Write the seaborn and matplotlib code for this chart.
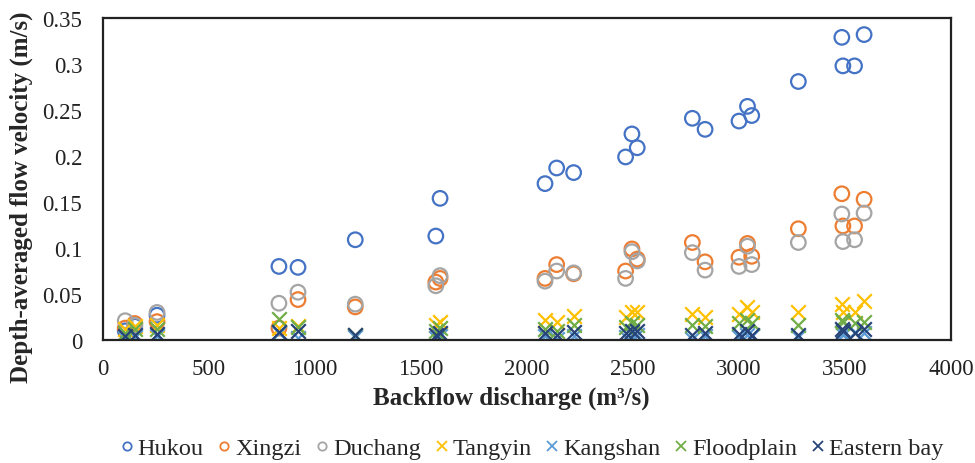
import matplotlib
matplotlib.use("Agg")
import matplotlib.pyplot as plt
import seaborn as sns
import pandas as pd
from matplotlib.lines import Line2D
from matplotlib.ticker import FuncFormatter

discharge = [105, 150, 255, 830, 920, 1190, 1570, 1590, 2085, 2140, 2220, 2465, 2495, 2520,
             2780, 2840, 3000, 3040, 3060, 3280, 3485, 3490, 3545, 3590]
hukou = [0.010, 0.015, 0.027, 0.080, 0.079, 0.109, 0.113, 0.154, 0.170, 0.187, 0.182, 0.199,
         0.224, 0.209, 0.241, 0.229, 0.238, 0.254, 0.244, 0.281, 0.329, 0.298, 0.298, 0.332]
xingzi = [0.013, 0.018, 0.020, 0.013, 0.044, 0.036, 0.063, 0.067, 0.067, 0.082, 0.072, 0.075,
          0.099, 0.088, 0.106, 0.085, 0.090, 0.105, 0.091, 0.121, 0.159, 0.124, 0.124, 0.153]
duchang = [0.021, 0.016, 0.030, 0.040, 0.052, 0.039, 0.059, 0.070, 0.064, 0.075, 0.073, 0.067,
           0.096, 0.086, 0.095, 0.076, 0.080, 0.102, 0.082, 0.106, 0.137, 0.107, 0.109, 0.138]
tangyin = [0.012, 0.015, 0.016, 0.013, 0.015, 0.004, 0.016, 0.020, 0.022, 0.020, 0.026, 0.025,
           0.031, 0.030, 0.028, 0.025, 0.028, 0.036, 0.030, 0.030, 0.039, 0.031, 0.031, 0.042]
kangshan = [0.002, 0.003, 0.004, 0.008, 0.002, 0.003, 0.002, 0.004, 0.004, 0.001, 0.004, 0.003,
            0.005, 0.006, 0.001, 0.004, 0.003, 0.006, 0.004, 0.003, 0.008, 0.006, 0.009, 0.008]
floodplain = [0.008, 0.012, 0.012, 0.023, 0.014, 0.006, 0.010, 0.013, 0.012, 0.010, 0.016, 0.014,
              0.018, 0.016, 0.016, 0.015, 0.018, 0.022, 0.018, 0.016, 0.022, 0.020, 0.018, 0.020]
eastern_bay = [0.004, 0.005, 0.007, 0.009, 0.010, 0.006, 0.006, 0.008, 0.008, 0.006, 0.009, 0.008,
               0.010, 0.010, 0.006, 0.008, 0.007, 0.010, 0.006, 0.005, 0.012, 0.010, 0.008, 0.012]

series_names = ["Hukou", "Xingzi", "Duchang", "Tangyin", "Kangshan", "Floodplain", "Eastern bay"]
series_values = [hukou, xingzi, duchang, tangyin, kangshan, floodplain, eastern_bay]
colors = ["#4472C4", "#ED7D31", "#A5A5A5", "#FFC000", "#5B9BD5", "#70AD47", "#264478"]
markers = ["o", "o", "o", "x", "x", "x", "x"]
x_ticks = [0, 500, 1000, 1500, 2000, 2500, 3000, 3500, 4000]
y_ticks = [0, 0.05, 0.1, 0.15, 0.2, 0.25, 0.3, 0.35]

sns.set_theme(style="white")
plt.rcParams["font.family"] = ["Liberation Serif", "DejaVu Serif"]

fig = plt.figure(figsize=(9.75, 4.64), dpi=100)
ax = fig.add_axes([0.1056, 0.265, 0.8698, 0.694])

for name, vals, c, m in zip(series_names, series_values, colors, markers):
    df = pd.DataFrame({"Q": discharge, "V": vals})
    if m == "o":
        sns.scatterplot(data=df, x="Q", y="V", ax=ax, marker="o", s=110,
                        facecolors="none", edgecolor=c, linewidth=1.6, legend=False)
    else:
        sns.scatterplot(data=df, x="Q", y="V", ax=ax, marker="x", s=110,
                        color=c, linewidth=1.6, legend=False)

ax.set_xlim(0, 4000)
ax.set_ylim(0, 0.35)
ax.set_xticks(x_ticks)
ax.set_yticks(y_ticks)
ax.yaxis.set_major_formatter(FuncFormatter(lambda v, p: f"{v:g}"))
ax.tick_params(axis="x", length=0, labelsize=16.5, colors="#222222", pad=13)
ax.tick_params(axis="y", length=0, labelsize=16.5, colors="#222222", pad=15)
for sp in ax.spines.values():
    sp.set_color("#222222")
    sp.set_linewidth(1.6)

ax.set_xlabel("Backflow discharge (m³/s)", fontsize=18, fontweight="bold")
ax.xaxis.set_label_coords(0.481, -0.14)
ax.set_ylabel("Depth-averaged flow velocity (m/s)", fontsize=18, fontweight="bold")
ax.yaxis.set_label_coords(-0.083, 0.447)

handles = []
for name, c, m in zip(series_names, colors, markers):
    if m == "o":
        h = Line2D([], [], linestyle="none", marker="o", markersize=6, markerfacecolor="none",
                   markeredgecolor=c, markeredgewidth=1.3, label=name)
    else:
        h = Line2D([], [], linestyle="none", marker="x", markersize=6.5, color=c,
                   markeredgewidth=1.3, label=name)
    handles.append(h)
fig.legend(handles=handles, loc="center", bbox_to_anchor=(0.543, 0.032), ncol=7, frameon=False,
           fontsize=17.5, handletextpad=0.0, columnspacing=0.4, handlelength=0.9)

fig.savefig("out.png", dpi=100)
